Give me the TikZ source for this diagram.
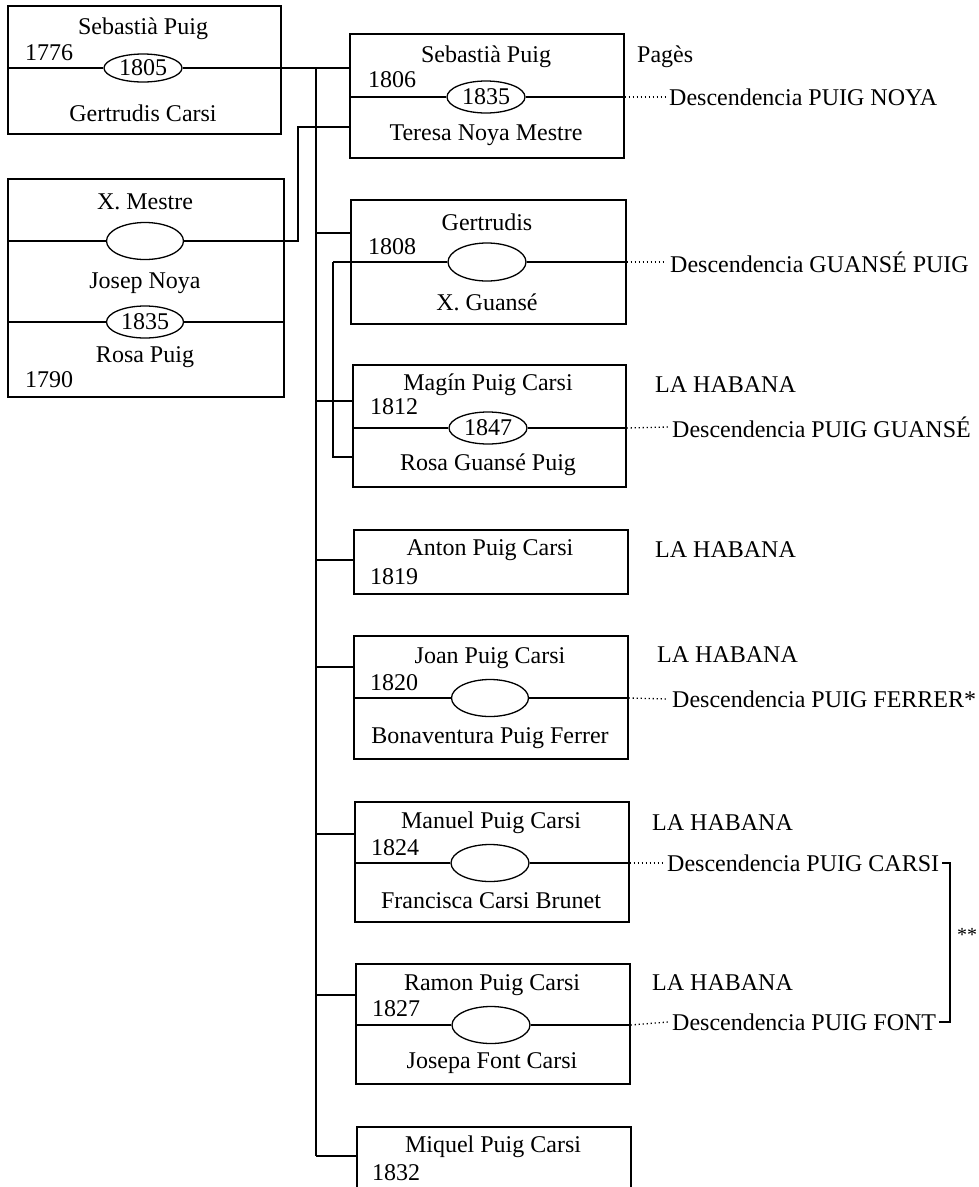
\documentclass[tikz,border=0pt]{standalone}
\usepackage{fontspec}
\setmainfont{Liberation Serif}
\usetikzlibrary{shapes.geometric}
\begin{document}
\begin{tikzpicture}[x=1pt,y=-1pt]
\tikzset{
 famb/.style={draw, line width=1.7pt, rectangle, inner sep=0pt, anchor=north west},
 wed/.style={draw, ellipse, line width=1.3pt, fill=white, inner sep=0pt, minimum width=78pt, minimum height=35pt, font=\fontsize{24pt}{28pt}\selectfont},
 nm/.style={inner sep=0pt, font=\fontsize{24pt}{28pt}\selectfont},
 lft/.style={nm, anchor=west},
 mline/.style={line width=1.3pt},
 conn/.style={line width=1.5pt},
 dots/.style={line width=1.3pt, dash pattern=on 1.2pt off 2.8pt},
}
\clip (0,0) rectangle (979,1187);
\fill[white] (0,0) rectangle (979,1187);

% ---- boxes
\node[famb, minimum width=273pt, minimum height=128pt] (A) at (7,5) {};
\node[famb, minimum width=276pt, minimum height=218pt] (B) at (7,178) {};
\node[famb, minimum width=274pt, minimum height=124pt] (C) at (349,33) {};
\node[famb, minimum width=275pt, minimum height=124pt] (D) at (350,199) {};
\node[famb, minimum width=273pt, minimum height=122pt] (E) at (352,364) {};
\node[famb, minimum width=274pt, minimum height=64pt] (F) at (353,529) {};
\node[famb, minimum width=274pt, minimum height=123pt] (G) at (353,635) {};
\node[famb, minimum width=274pt, minimum height=120pt] (H) at (354,801) {};
\node[famb, minimum width=274pt, minimum height=120pt] (I) at (355,963) {};
\node[famb, minimum width=274pt, minimum height=100pt] (J) at (356,1126) {};

% ---- marriage ellipses
\node[wed, minimum height=28pt] (eA) at (143,68) {1805};
\node[wed, minimum width=77pt, minimum height=37pt] (eB1) at (145,241) {};
\node[wed, minimum width=77pt, minimum height=32pt] (eB2) at (145,322) {1835};
\node[wed, minimum height=32pt] (eC) at (486,97) {1835};
\node[wed, minimum height=38pt] (eD) at (487,262) {};
\node[wed, minimum height=32pt] (eE) at (488,428) {1847};
\node[wed, minimum width=77pt, minimum height=37pt] (eG) at (490,698) {};
\node[wed, minimum height=37pt] (eH) at (490,863) {};
\node[wed, minimum height=37pt] (eI) at (491,1025) {};

% ---- names and years
\node[nm] at (143,29) {Sebastià Puig};
\node[lft] at (25,53) {1776};
\node[nm] at (143,113) {Gertrudis Carsi};

\node[nm] at (145,202) {X. Mestre};
\node[nm] at (145,283) {Josep Noya};
\node[nm] at (145,357) {Rosa Puig};
\node[lft] at (25,380) {1790};

\node[nm] at (486,57) {Sebastià Puig};
\node[lft] at (368,80) {1806};
\node[nm] at (486,135) {Teresa Noya Mestre};

\node[nm] at (487,222) {Gertrudis};
\node[lft] at (368,247) {1808};
\node[nm] at (487,302) {X. Guansé};

\node[nm] at (488,385) {Magín Puig Carsi};
\node[lft] at (370,407) {1812};
\node[nm] at (488,465) {Rosa Guansé Puig};

\node[nm] at (490,550) {Anton Puig Carsi};
\node[lft] at (370,577) {1819};

\node[nm] at (490,658) {Joan Puig Carsi};
\node[lft] at (370,683) {1820};
\node[nm] at (490,738) {Bonaventura Puig Ferrer};

\node[nm] at (491,823) {Manuel Puig Carsi};
\node[lft] at (371,848) {1824};
\node[nm] at (491,901) {Francisca Carsi Brunet};

\node[nm] at (492,985) {Ramon Puig Carsi};
\node[lft] at (372,1009) {1827};
\node[nm] at (492,1063) {Josepa Font Carsi};

\node[nm] at (493,1147) {Miquel Puig Carsi};
\node[lft] at (372,1173) {1832};

% ---- right-hand notes
\node[lft] at (637,57) {Pagès};
\node[lft] (dNoya) at (669,97) {Descendencia PUIG NOYA};
\node[lft] (dGP) at (670,262) {Descendencia GUANSÉ PUIG};
\node[lft] at (655,385) {LA HABANA};
\node[lft] (dPG) at (672,427) {Descendencia PUIG GUANSÉ};
\node[lft] at (655,550) {LA HABANA};
\node[lft] at (657,655) {LA HABANA};
\node[lft] (dPF) at (672,699) {Descendencia PUIG FERRER*};
\node[lft] at (652,823) {LA HABANA};
\node[lft] (dCarsi) at (667,863) {Descendencia PUIG CARSI};
\node[lft] at (652,983) {LA HABANA};
\node[lft] (dFont) at (672,1022) {Descendencia PUIG FONT};
\node[inner sep=0pt, font=\fontsize{20pt}{22pt}\selectfont] (stars) at (967,935) {**};

% ---- marriage lines
\draw[mline] (A.west |- eA) -- (eA.west);
\draw[mline] (eA.east) -- (C.west |- eA);
\draw[mline] (B.west |- eB1) -- (eB1.west);
\draw[mline] (B.west |- eB2) -- (eB2.west);
\draw[mline] (eB2.east) -- (B.east |- eB2);
\draw[mline] (C.west |- eC) -- (eC.west);
\draw[mline] (eC.east) -- (C.east |- eC);
\coordinate (gm) at (333,262);
\draw[mline] (gm) -- (eD.west);
\draw[mline] (eD.east) -- (D.east |- eD);
\draw[mline] (E.west |- eE) -- (eE.west);
\draw[mline] (eE.east) -- (E.east |- eE);
\draw[mline] (G.west |- eG) -- (eG.west);
\draw[mline] (eG.east) -- (G.east |- eG);
\draw[mline] (H.west |- eH) -- (eH.west);
\draw[mline] (eH.east) -- (H.east |- eH);
\draw[mline] (I.west |- eI) -- (eI.west);
\draw[mline] (eI.east) -- (I.east |- eI);

% ---- descent dotted lines
\draw[dots] (C.east |- eC) -- ([xshift=-4pt]dNoya.west);
\draw[dots] (D.east |- eD) -- ([xshift=-4pt]dGP.west);
\draw[dots] (E.east |- eE) -- ([xshift=-4pt]dPG.west);
\draw[dots] (G.east |- eG) -- ([xshift=-4pt]dPF.west);
\draw[dots] (H.east |- eH) -- ([xshift=-4pt]dCarsi.west);
\draw[dots] (I.east |- eI) -- ([xshift=-4pt]dFont.west);

% ---- bracket **
\coordinate (bx) at (950,0);
\draw[conn] ([xshift=3pt]dCarsi.east) -- (bx |- dCarsi.east) -- (bx |- dFont.east) -- ([xshift=3pt]dFont.east);

% ---- Teresa Noya Mestre descends from X. Mestre / Josep Noya
\coordinate (tm) at (298,127);
\draw[conn] (eB1.east) -| (tm) -- (C.west |- tm);

% ---- Rosa Guansé Puig descends from Gertrudis / X. Guansé
\coordinate (rg) at (333,457);
\draw[conn] (gm) -- (rg) -- (E.west |- rg);

% ---- trunk of children of Sebastià Puig / Gertrudis Carsi
\coordinate (tr) at (316,0);
\coordinate (kD) at (350,233);
\coordinate (kE) at (352,401);
\coordinate (kF) at (353,560);
\coordinate (kG) at (353,667);
\coordinate (kH) at (354,834);
\coordinate (kI) at (355,995);
\coordinate (kJ) at (356,1156);
\draw[line width=1.8pt] (tr |- eA) -- (tr |- kJ);
\draw[conn] (tr |- kD) -- (D.west |- kD);
\draw[conn] (tr |- kE) -- (E.west |- kE);
\draw[conn] (tr |- kF) -- (F.west |- kF);
\draw[conn] (tr |- kG) -- (G.west |- kG);
\draw[conn] (tr |- kH) -- (H.west |- kH);
\draw[conn] (tr |- kI) -- (I.west |- kI);
\draw[conn] (tr |- kJ) -- (J.west |- kJ);
\end{tikzpicture}
\end{document}
